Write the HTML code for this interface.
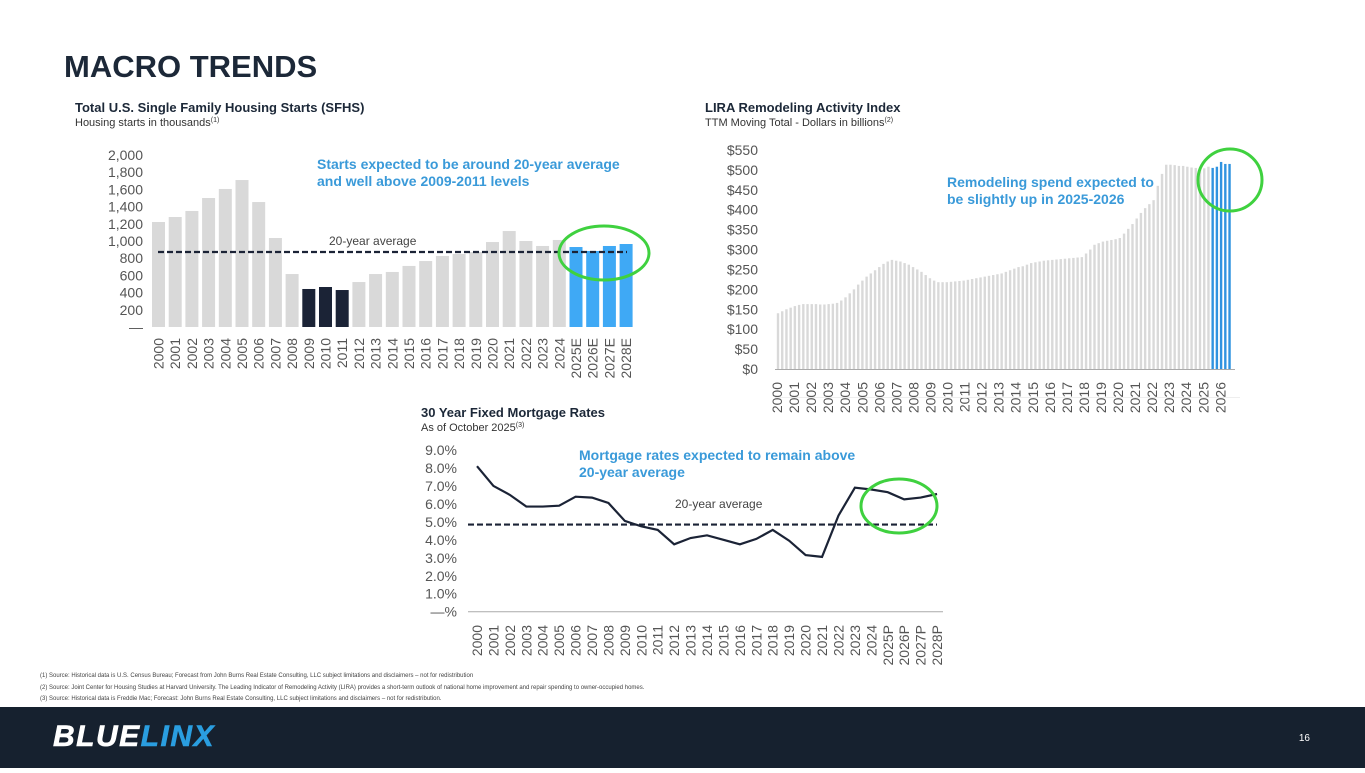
<!DOCTYPE html>
<html><head><meta charset="utf-8"><style>
body{margin:0;width:1365px;height:768px;overflow:hidden;background:#fff;font-family:"Liberation Sans",sans-serif}
svg text{font-family:"Liberation Sans",sans-serif}
</style></head><body>
<svg id="s" width="1365" height="768" viewBox="0 0 1365 768" xmlns="http://www.w3.org/2000/svg">
<text x="64" y="77" font-size="31" font-weight="bold" fill="#1c2838">MACRO TRENDS</text>
<text x="75" y="112" font-size="13" font-weight="bold" fill="#1c2838">Total U.S. Single Family Housing Starts (SFHS)</text>
<text x="75" y="126" font-size="11" fill="#333">Housing starts in thousands<tspan font-size="7" dy="-4">(1)</tspan></text>
<text x="705" y="112" font-size="13" font-weight="bold" fill="#1c2838">LIRA Remodeling Activity Index</text>
<text x="705" y="126" font-size="11" fill="#333">TTM Moving Total - Dollars in billions<tspan font-size="7" dy="-4">(2)</tspan></text>
<text x="421" y="417" font-size="13" font-weight="bold" fill="#1c2838">30 Year Fixed Mortgage Rates</text>
<text x="421" y="431" font-size="11" fill="#333">As of October 2025<tspan font-size="7" dy="-4">(3)</tspan></text>
<g id="g1"></g>
<g id="g2"></g>
<g id="g3"></g>
<text x="317" y="169" font-size="14" font-weight="bold" fill="#3a9ad9">Starts expected to be around 20-year average<tspan x="317" dy="17">and well above 2009-2011 levels</tspan></text>
<text x="947" y="187" font-size="14" font-weight="bold" fill="#3a9ad9">Remodeling spend expected to<tspan x="947" dy="17">be slightly up in 2025-2026</tspan></text>
<text x="579" y="460" font-size="14" font-weight="bold" fill="#3a9ad9">Mortgage rates expected to remain above<tspan x="579" dy="17">20-year average</tspan></text>
<text x="329" y="245" font-size="12" fill="#444">20-year average</text>
<text x="675" y="508" font-size="12" fill="#444">20-year average</text>
<ellipse cx="604" cy="253" rx="45" ry="27" fill="none" stroke="#3fd13f" stroke-width="3"/>
<ellipse cx="1230" cy="180" rx="32" ry="31" fill="none" stroke="#3fd13f" stroke-width="3"/>
<ellipse cx="899" cy="506" rx="38" ry="27" fill="none" stroke="#3fd13f" stroke-width="3"/>
<g font-size="6" fill="#444">
<text x="40" y="677">(1) Source: Historical data is U.S. Census Bureau; Forecast from John Burns Real Estate Consulting, LLC subject limitations and disclaimers – not for redistribution</text>
<text x="40" y="689">(2) Source: Joint Center for Housing Studies at Harvard University. The Leading Indicator of Remodeling Activity (LIRA) provides a short-term outlook of national home improvement and repair spending to owner-occupied homes.</text>
<text x="40" y="700">(3) Source: Historical data is Freddie Mac; Forecast: John Burns Real Estate Consulting, LLC subject limitations and disclaimers – not for redistribution.</text>
</g>
<rect x="0" y="707" width="1365" height="61" fill="#16212f"/>
<text x="53" y="746" font-size="30" font-weight="bold" font-style="italic" fill="#fff" letter-spacing="1.5" stroke="#fff" stroke-width="0.6">BLUE<tspan fill="#2a9ee0" stroke="#2a9ee0">LINX</tspan></text>
<text x="1310" y="741" font-size="10" fill="#fff" text-anchor="end">16</text>
</svg>
<script>
const sfhsYears=["2000","2001","2002","2003","2004","2005","2006","2007","2008","2009","2010","2011","2012","2013","2014","2015","2016","2017","2018","2019","2020","2021","2022","2023","2024","2025E","2026E","2027E","2028E"];
const sfhsValues=[1221,1279,1349,1500,1605,1709,1453,1035,616,442,465,430,523,616,640,710,767,826,849,872,988,1116,1000,942,1012,930,884,942,965];
const sfhsAverage=872;
const sfhsTicks=[0,200,400,600,800,1000,1200,1400,1600,1800,2000];
const sfhsTickLabels=["—","200","400","600","800","1,000","1,200","1,400","1,600","1,800","2,000"];

const liraYears=["2000","2001","2002","2003","2004","2005","2006","2007","2008","2009","2010","2011","2012","2013","2014","2015","2016","2017","2018","2019","2020","2021","2022","2023","2024","2025","2026"];
const liraValues=[140,145,150,154,158,161,163,
163,163,163,162,162,163,164,166,
172,180,190,200,212,222,232,240,248,256,264,270,274,
272,270,266,262,256,250,244,236,228,222,218,
218,218,219,220,221,222,224,226,228,230,232,234,236,238,240,
244,248,252,256,258,262,266,268,270,272,273,274,275,276,277,278,279,280,281,
290,300,312,316,320,322,324,326,329,
340,352,364,378,392,404,414,424,
460,490,513,
513,512,510,510,508,506,505,
500,504,508,
505,508,520,515,515];
const liraForecastCount=5;
const liraTicks=[0,50,100,150,200,250,300,350,400,450,500,550];

const mortYears=["2000","2001","2002","2003","2004","2005","2006","2007","2008","2009","2010","2011","2012","2013","2014","2015","2016","2017","2018","2019","2020","2021","2022","2023","2024","2025P","2026P","2027P","2028P"];
const mortValues=[8.1,7.0,6.5,5.85,5.85,5.9,6.4,6.35,6.05,5.05,4.75,4.55,3.75,4.1,4.25,4.0,3.75,4.05,4.55,3.95,3.15,3.05,5.35,6.9,6.8,6.65,6.25,6.35,6.55];
const mortAverage=4.85;
const mortTicks=[0,1,2,3,4,5,6,7,8,9];
const mortTickLabels=["—%","1.0%","2.0%","3.0%","4.0%","5.0%","6.0%","7.0%","8.0%","9.0%"];

const NS="http://www.w3.org/2000/svg";
function mk(parent,tag,attrs,text){const e=document.createElementNS(NS,tag);for(const k in attrs)e.setAttribute(k,attrs[k]);if(text!==undefined)e.textContent=text;parent.appendChild(e);return e;}

(function(){
const g=document.getElementById('g1');
const y=v=>327-v*(172/2000);
const x=i=>158.5+i*16.7;
sfhsTicks.forEach((t,i)=>{const e=mk(g,'text',{x:143,y:y(t)+5,'font-size':14,fill:'#555','text-anchor':'end'},sfhsTickLabels[i]);

});
sfhsValues.forEach((v,i)=>{let c='#d9d9d9';if(i>=9&&i<=11)c='#1b2336';if(i>=25)c='#3fa9f5';
const r=mk(g,'rect',{x:x(i)-6.5,y:y(v),width:13,height:y(0)-y(v),fill:c});


const t=mk(g,'text',{transform:`translate(${x(i)+5},338) rotate(-90)`,'font-size':14,fill:'#555','text-anchor':'end'},sfhsYears[i]);

});
const l=mk(g,'line',{x1:158,x2:627,y1:y(sfhsAverage),y2:y(sfhsAverage),stroke:'#1b2336','stroke-width':2.2,'stroke-dasharray':'6 3'});


})();

(function(){
const g=document.getElementById('g2');
const y=v=>369-v*(219/550);
const x=i=>778+i*4.22;
liraTicks.forEach(t=>{const e=mk(g,'text',{x:758,y:y(t)+5,'font-size':14,fill:'#555','text-anchor':'end'},'$'+t);

});
const n=liraValues.length;
liraValues.forEach((v,i)=>{const c=i>=n-liraForecastCount?'#2f93e0':'#d9d9d9';
const r=mk(g,'rect',{x:x(i)-1.2,y:y(v),width:2.4,height:y(0)-y(v),fill:c});

});
const b=mk(g,'line',{x1:775,x2:1235,y1:369.5,y2:369.5,stroke:'#aaa','stroke-width':1});


liraYears.forEach((yr,i)=>{const t=mk(g,'text',{transform:`translate(${782+i*17.05},382) rotate(-90)`,'font-size':14,fill:'#555','text-anchor':'end'},yr);

});
const f=mk(g,'line',{x1:775,x2:1240,y1:397.5,y2:397.5,stroke:'#eee','stroke-width':1});


})();

(function(){
const g=document.getElementById('g3');
const y=v=>611.7-v*17.97;
const x=i=>477+i*16.43;
mortTicks.forEach((t,i)=>{const e=mk(g,'text',{x:457,y:y(t)+5,'font-size':14,fill:'#555','text-anchor':'end'},mortTickLabels[i]);

});
const ax=mk(g,'line',{x1:468,x2:943,y1:611.7,y2:611.7,stroke:'#aaa','stroke-width':1});


const av=mk(g,'line',{x1:468,x2:937,y1:y(mortAverage),y2:y(mortAverage),stroke:'#1b2336','stroke-width':2.2,'stroke-dasharray':'6 3'});


const p=mk(g,'polyline',{points:mortValues.map((v,i)=>x(i)+','+y(v)).join(' '),fill:'none',stroke:'#1b2336','stroke-width':2.2});


mortYears.forEach((yr,i)=>{const t=mk(g,'text',{transform:`translate(${x(i)+5},625) rotate(-90)`,'font-size':14,fill:'#555','text-anchor':'end'},yr);

});
})();
</script>
</body></html>
